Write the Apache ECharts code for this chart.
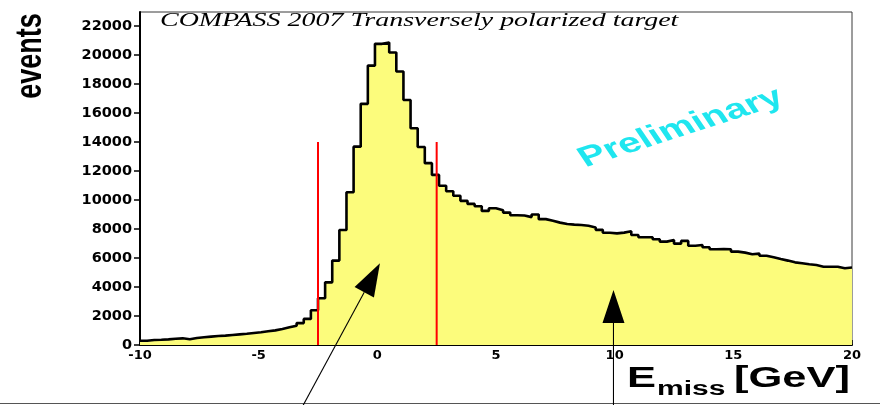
<!DOCTYPE html>
<html>
<head>
<meta charset="utf-8">
<script src="https://cdn.jsdelivr.net/npm/echarts@6/dist/echarts.min.js"></script>
<style>
  html, body { margin: 0; padding: 0; background: #fff; }
  #chart { width: 880px; height: 405px; }
</style>
</head>
<body>
<div id="chart"></div>
<script>
// Missing-energy spectrum: 100 bins of 0.3 GeV from -10 to 20 GeV
const BIN_START = -10;
const BIN_WIDTH = 0.3;
const counts = [
  290, 340, 360, 390, 435, 460, 395, 485, 530, 575,
  620, 645, 690, 735, 780, 830, 875, 945, 1010, 1100,
  1220, 1335, 1510, 1800, 2400, 3220, 4320, 5820, 7930, 10530,
  13680, 16630, 19270, 20770, 20860, 20170, 18860, 16900, 14950, 13660,
  12540, 11730, 10980, 10600, 10290, 9940, 9730, 9570, 9250, 9430,
  9300, 9130, 8950, 8930, 8820, 9000, 8680, 8570, 8440, 8340,
  8300, 8280, 8220, 8110, 7940, 7740, 7700, 7750, 7840, 7590,
  7430, 7430, 7290, 7130, 7245, 6990, 7180, 6850, 6900, 6740,
  6600, 6620, 6600, 6440, 6370, 6260, 6300, 6160, 6050, 5930,
  5820, 5700, 5640, 5570, 5520, 5400, 5400, 5400, 5290, 5340
];

// Exclusive-peak cut window
const cutPositions = [-2.5, 2.5];
const cutHeight = 14000;

// Axis ticks
const xTicks = [-10, -5, 0, 5, 10, 15, 20];
const yTicks = [0, 2000, 4000, 6000, 8000, 10000, 12000, 14000, 16000, 18000, 20000, 22000];
const Y_MAX = 22966;

// Arrows in data coordinates (tail below the axis, head inside the frame)
const arrows = [
  { from: [-3.14, -4200], to: [0.11, 5640] },
  { from: [9.95, -4200], to: [9.95, 3800] }
];

const titleText = 'COMPASS 2007 Transversely polarized target';
const watermarkText = 'Preliminary';

// Step outline: each bin starts at its low edge; a closing point at the upper edge
const histData = counts.map((c, i) => [BIN_START + i * BIN_WIDTH, c]);
histData.push([BIN_START + counts.length * BIN_WIDTH, counts[counts.length - 1]]);

const chart = echarts.init(document.getElementById('chart'), null, { renderer: 'canvas' });

const axisFont = { color: '#000', fontFamily: 'DejaVu Sans', fontWeight: 'bold', formatter: v => String(v) };

chart.setOption({
  animation: false,
  backgroundColor: '#ffffff',
  grid: {
    left: 140, right: 28, top: 12, bottom: 60,
    show: true, borderColor: '#3a3a3a', borderWidth: 1, backgroundColor: 'transparent'
  },
  xAxis: {
    type: 'value', min: -10, max: 20, interval: 5,
    axisLine: { show: true, onZero: false, lineStyle: { color: '#000', width: 2 } },
    axisTick: { show: true, inside: true, length: 5, customValues: xTicks, lineStyle: { color: '#000', width: 1.5 } },
    axisLabel: Object.assign({ fontSize: 13, margin: 4, customValues: xTicks }, axisFont),
    splitLine: { show: false }
  },
  yAxis: {
    type: 'value', min: 0, max: Y_MAX,
    axisLine: { show: true, onZero: false, lineStyle: { color: '#000', width: 2 } },
    axisTick: { show: true, inside: false, length: 6, customValues: yTicks, lineStyle: { color: '#000', width: 1.5 } },
    axisLabel: Object.assign({ fontSize: 14.5, margin: 8, customValues: yTicks }, axisFont),
    splitLine: { show: false }
  },
  series: [
    {
      type: 'line',
      step: 'end',
      data: histData,
      symbol: 'none',
      silent: true,
      z: 2,
      lineStyle: { color: '#000', width: 2.6 },
      areaStyle: { color: '#fcfc7c', opacity: 1 }
    }
  ].concat(cutPositions.map(x => ({
    type: 'line',
    data: [[x, 0], [x, cutHeight]],
    symbol: 'none',
    silent: true,
    z: 3,
    lineStyle: { color: '#ff0000', width: 2 }
  })))
});

// Arrows: shaft plus filled triangular head, placed through the grid's coordinate system
const HEAD_LEN = 33, HEAD_HALF = 11;
const arrowElements = [];
arrows.forEach((a, k) => {
  const s = chart.convertToPixel({ gridIndex: 0 }, a.from);
  const t = chart.convertToPixel({ gridIndex: 0 }, a.to);
  const dx = t[0] - s[0], dy = t[1] - s[1];
  const len = Math.hypot(dx, dy);
  const ux = dx / len, uy = dy / len;
  const bx = t[0] - HEAD_LEN * ux, by = t[1] - HEAD_LEN * uy;
  const nx = -uy, ny = ux;
  arrowElements.push({
    type: 'line', id: 'shaft' + k, z: 100, silent: true,
    shape: { x1: s[0], y1: s[1], x2: bx, y2: by },
    style: { stroke: '#000', lineWidth: 1.1 }
  });
  arrowElements.push({
    type: 'polygon', id: 'head' + k, z: 100, silent: true,
    shape: { points: [[t[0], t[1]], [bx + HEAD_HALF * nx, by + HEAD_HALF * ny], [bx - HEAD_HALF * nx, by - HEAD_HALF * ny]] },
    style: { fill: '#000' }
  });
});

chart.setOption({
  graphic: [
    {
      type: 'text', id: 'title', x: 160, y: 21, scaleX: 1.51, z: 100, silent: true,
      style: { text: titleText, font: 'italic 18.5px "Liberation Serif"', fill: '#000', verticalAlign: 'middle' }
    },
    {
      type: 'text', id: 'ylabel', x: 31, y: 56, rotation: Math.PI / 2, scaleY: 1.35, z: 100, silent: true,
      style: { text: 'events', font: 'bold 27px "Liberation Sans"', fill: '#000', align: 'center', verticalAlign: 'middle' }
    },
    {
      type: 'text', id: 'xlabelE', x: 627, y: 379, scaleX: 1.5, z: 100, silent: true,
      style: { text: 'E', font: 'bold 29px "Liberation Sans"', fill: '#000', verticalAlign: 'middle' }
    },
    {
      type: 'text', id: 'xlabelSub', x: 657, y: 389, scaleX: 1.5, z: 100, silent: true,
      style: { text: 'miss', font: 'bold 20px "Liberation Sans"', fill: '#000', verticalAlign: 'middle' }
    },
    {
      type: 'text', id: 'xlabelUnit', x: 734, y: 379, scaleX: 1.5, z: 100, silent: true,
      style: { text: '[GeV]', font: 'bold 29px "Liberation Sans"', fill: '#000', verticalAlign: 'middle' }
    },
    {
      type: 'group', id: 'wm', scaleX: 1.45, z: 100, silent: true,
      children: [{
        type: 'text', x: 681 / 1.45, y: 128, rotation: 0.436, z: 100,
        style: { text: watermarkText, font: 'bold 28px "Liberation Sans"', fill: '#1fe6ef', align: 'center', verticalAlign: 'middle' }
      }]
    },
    {
      type: 'line', id: 'bottomRule', z: 100, silent: true,
      shape: { x1: 0, y1: 403.5, x2: 880, y2: 403.5 },
      style: { stroke: '#555', lineWidth: 1.2 }
    }
  ].concat(arrowElements)
});
</script>
</body>
</html>
